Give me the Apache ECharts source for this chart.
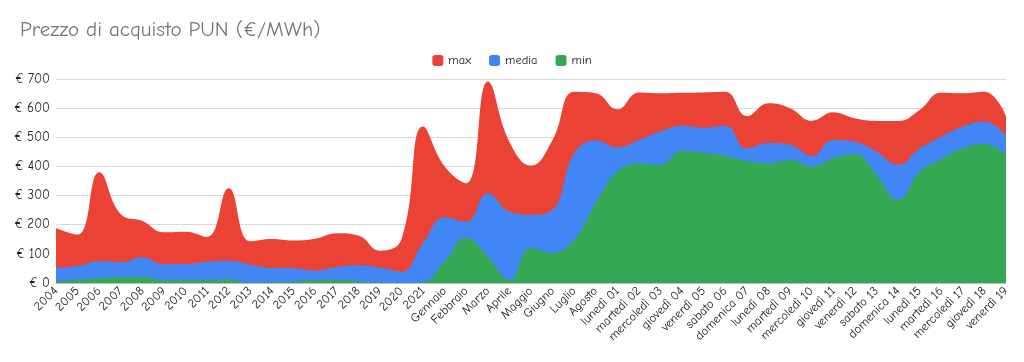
<!DOCTYPE html>
<html>
<head>
<meta charset="utf-8">
<script src="https://cdn.jsdelivr.net/npm/echarts@6/dist/echarts.min.js"></script>
<style>
html,body{margin:0;padding:0;background:#fff;}
#chart{width:1024px;height:362px;}
</style>
</head>
<body>
<div id="chart"></div>
<script>
const categories = ["2004","2005","2006","2007","2008","2009","2010","2011","2012","2013","2014","2015","2016","2017","2018","2019","2020","2021",
  "Gennaio","Febbraio","Marzo","Aprile","Maggio","Giugno","Luglio","Agosto",
  "lunedì 01","martedì 02","mercoledì 03","giovedì 04","venerdì 05","sabato 06","domenica 07","lunedì 08","martedì 09","mercoledì 10",
  "giovedì 11","venerdì 12","sabato 13","domenica 14","lunedì 15","martedì 16","mercoledì 17","giovedì 18","venerdì 19"];

const maxValues = [188,166,380,236,213,174,176,158,325,143,151,146,152,171,163,111,150,537,
  400,342,691,485,403,491,656,651,
  596,654,651,653,654,656,573,617,600,557,586,565,556,556,594,653,651,656,573];

const mediaValues = [52,58,75,71,88,64,65,73,76,63,52,51,43,55,61,53,39,138,
  226,211,308,245,234,251,445,489,
  466,491,521,540,533,540,462,480,474,436,491,485,451,405,462,502,537,554,505];

const minValues = [5,11,16,21,21,10,10,10,13,1,3,5,11,10,6,1,0,3,
  74,154,91,10,120,103,148,274,
  382,409,405,453,447,436,419,411,422,400,428,443,371,285,382,425,462,477,440];

const yTicks = [0,100,200,300,400,500,600,700];

const FONT = '"Comic Sans MS","Comic Neue","Noto Sans",sans-serif';

const chart = echarts.init(document.getElementById('chart'), null, {renderer:'canvas'});

function areaSeries(name, data, color){
  return {
    name: name,
    type: 'line',
    data: data,
    smooth: 0.45,
    symbol: 'none',
    lineStyle: {width: 0, color: color},
    itemStyle: {color: color},
    areaStyle: {color: color, opacity: 1},
    emphasis: {disabled: true}
  };
}

chart.setOption({
  animation: false,
  backgroundColor: '#ffffff',
  title: {
    text: 'Prezzo di acquisto PUN (€/MWh)',
    left: 15, top: 15,
    textStyle: {fontFamily: FONT, fontSize: 21, fontWeight: 'normal', color: '#757575'}
  },
  legend: {
    top: 49, left: 'center',
    itemWidth: 11, itemHeight: 11, itemGap: 18,
    icon: 'roundRect',
    textStyle: {fontFamily: FONT, fontSize: 12.5, color: '#222'},
    data: ['max','media','min']
  },
  grid: {left: 56, right: 18, top: 79, bottom: 79, containLabel: false},
  xAxis: {
    type: 'category',
    data: categories,
    boundaryGap: false,
    axisLine: {show: true, lineStyle: {color: '#bdbdbd'}},
    axisTick: {show: false},
    axisLabel: {interval: 0, rotate: 45, margin: 6, fontFamily: FONT, fontSize: 12.5, color: '#222'}
  },
  yAxis: {
    type: 'value',
    min: yTicks[0], max: yTicks[yTicks.length-1], interval: 100,
    axisLine: {show: false},
    axisTick: {show: false},
    splitLine: {lineStyle: {color: '#d9d9d9'}},
    axisLabel: {margin: 6, fontFamily: FONT, fontSize: 13, color: '#222', formatter: v => '€ ' + v}
  },
  series: [
    areaSeries('max', maxValues, '#EA4335'),
    areaSeries('media', mediaValues, '#4285F4'),
    areaSeries('min', minValues, '#34A853')
  ]
});
</script>
</body>
</html>
